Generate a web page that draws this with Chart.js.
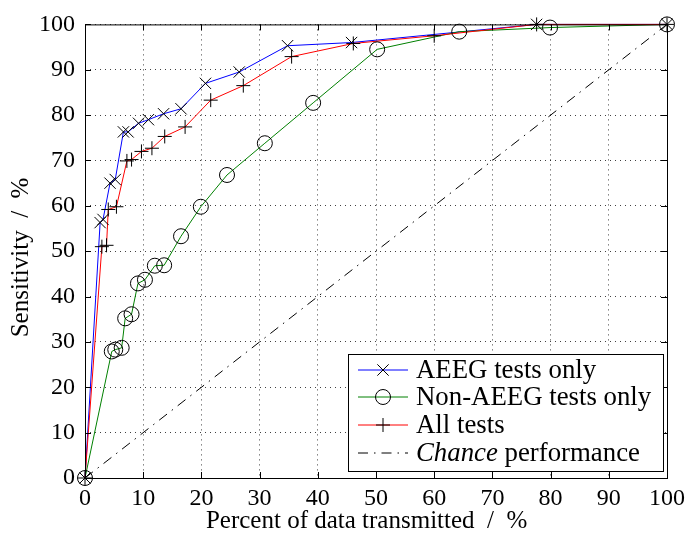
<!DOCTYPE html>
<html>
<head>
<meta charset="utf-8">
<script src="https://cdn.jsdelivr.net/npm/chart.js@4.4.1/dist/chart.umd.min.js"></script>
<style>
  html, body { margin: 0; padding: 0; background: #fff; }
</style>
</head>
<body>
<canvas id="roc" width="700" height="534"></canvas>
<script>
// valores (x = % de dados transmitidos, y = sensibilidade %)
const aeegX = [0, 2.6, 3.1, 4.3, 5.2, 6.6, 7.4, 9.2, 10.9, 13.5, 16.5, 20.7, 26.5, 34.8, 45.8, 77.6, 100];
const aeegY = [0, 56.3, 57.0, 65.0, 65.8, 76.3, 76.3, 78.2, 79.0, 80.3, 81.4, 87.0, 89.5, 95.3, 96.0, 100, 100];

const nonAeegX = [0, 4.6, 5.2, 6.3, 6.9, 8.0, 9.1, 10.3, 12.0, 13.6, 16.5, 19.9, 24.4, 30.9, 39.2, 50.2, 64.3, 79.9, 100];
const nonAeegY = [0, 27.9, 28.3, 28.7, 35.2, 36.1, 42.9, 43.7, 46.8, 46.9, 53.3, 59.8, 66.8, 73.8, 82.7, 94.5, 98.4, 99.3, 100];

const allX = [0, 2.9, 3.7, 4.0, 5.4, 7.2, 8.0, 9.7, 11.5, 13.7, 17.2, 21.6, 27.2, 35.5, 46.1, 60.0, 77.6, 100];
const allY = [0, 51.0, 51.3, 59.2, 59.8, 69.9, 70.2, 72.0, 72.7, 75.3, 77.4, 83.3, 86.5, 92.9, 95.8, 97.5, 100, 100];

const chanceX = [0, 100];
const chanceY = [0, 100];

const tickValues = [0, 10, 20, 30, 40, 50, 60, 70, 80, 90, 100];

const serif = "'Liberation Serif', 'Times New Roman', serif";
const chanceDash = [10, 6, 1.5, 6];

function toPoints(xs, ys) {
  return xs.map((x, i) => ({ x: x, y: ys[i] }));
}

// desenha um marcador no estilo do matlab
function drawMarker(ctx, style, x, y, r) {
  ctx.save();
  ctx.strokeStyle = '#000';
  ctx.lineWidth = 1;
  ctx.beginPath();
  if (style === 'circle') {
    ctx.arc(x, y, r, 0, Math.PI * 2);
  } else if (style === 'cross') {
    ctx.moveTo(x - r, y); ctx.lineTo(x + r, y);
    ctx.moveTo(x, y - r); ctx.lineTo(x, y + r);
  } else {
    const d = r * Math.SQRT1_2;
    ctx.moveTo(x - d, y - d); ctx.lineTo(x + d, y + d);
    ctx.moveTo(x - d, y + d); ctx.lineTo(x + d, y - d);
  }
  ctx.stroke();
  ctx.restore();
}

const legendItems = [
  { color: '#0000ff', marker: 'crossRot', r: 8, text: 'AEEG tests only' },
  { color: '#008000', marker: 'circle', r: 7.5, text: 'Non-AEEG tests only' },
  { color: '#ff0000', marker: 'cross', r: 7, text: 'All tests' },
  { color: '#000', marker: null, text: 'performance', italic: 'Chance' },
];

// moldura, ticks para dentro e legenda
const framePlugin = {
  id: 'frame',
  afterDraw(chart) {
    const { ctx, chartArea } = chart;
    const xs = chart.scales.x;
    const ys = chart.scales.y;
    ctx.save();
    ctx.strokeStyle = '#000';
    ctx.lineWidth = 1;
    ctx.strokeRect(chartArea.left + 0.5, chartArea.top + 0.5,
      chartArea.right - chartArea.left, chartArea.bottom - chartArea.top);
    ctx.beginPath();
    for (const v of tickValues) {
      const px = Math.round(xs.getPixelForValue(v)) + 0.5;
      ctx.moveTo(px, chartArea.bottom); ctx.lineTo(px, chartArea.bottom - 6);
      ctx.moveTo(px, chartArea.top); ctx.lineTo(px, chartArea.top + 6);
      const py = Math.round(ys.getPixelForValue(v)) + 0.5;
      ctx.moveTo(chartArea.left, py); ctx.lineTo(chartArea.left + 6, py);
      ctx.moveTo(chartArea.right, py); ctx.lineTo(chartArea.right - 6, py);
    }
    ctx.stroke();

    // legenda
    const box = { left: 348.5, top: 354.5, right: 663.5, bottom: 471.5 };
    ctx.fillStyle = '#fff';
    ctx.fillRect(box.left, box.top, box.right - box.left, box.bottom - box.top);
    ctx.strokeRect(box.left, box.top, box.right - box.left, box.bottom - box.top);
    const rows = [370, 397, 425, 453];
    ctx.textBaseline = 'middle';
    ctx.textAlign = 'left';
    legendItems.forEach((item, i) => {
      const y = rows[i];
      ctx.save();
      ctx.strokeStyle = item.color;
      ctx.lineWidth = 1;
      if (!item.marker) ctx.setLineDash(chanceDash);
      ctx.beginPath();
      ctx.moveTo(358, y); ctx.lineTo(408, y);
      ctx.stroke();
      ctx.restore();
      if (item.marker) drawMarker(ctx, item.marker, 383, y, item.r);
      ctx.fillStyle = '#000';
      let tx = 416;
      if (item.italic) {
        ctx.font = 'italic 26.8px ' + serif;
        ctx.fillText(item.italic, tx, y + 1);
        tx += ctx.measureText(item.italic + ' ').width;
      }
      ctx.font = '26.8px ' + serif;
      ctx.fillText(item.text, tx, y + 1);
    });
    ctx.restore();
  }
};

const markerPlugin = {
  id: 'markers',
  afterDatasetsDraw(chart) {
    chart.data.datasets.forEach((ds, i) => {
      if (!ds.marker) return;
      const meta = chart.getDatasetMeta(i);
      meta.data.forEach((pt) => drawMarker(chart.ctx, ds.marker, pt.x, pt.y, ds.markerRadius));
    });
  }
};

new Chart(document.getElementById('roc'), {
  type: 'scatter',
  data: {
    datasets: [
      {
        label: 'AEEG tests only',
        data: toPoints(aeegX, aeegY),
        showLine: true,
        borderColor: '#0000ff',
        borderWidth: 1,
        pointRadius: 0,
        marker: 'crossRot',
        markerRadius: 8,
        order: 4,
        clip: false,
      },
      {
        label: 'Non-AEEG tests only',
        data: toPoints(nonAeegX, nonAeegY),
        showLine: true,
        borderColor: '#008000',
        borderWidth: 1,
        pointRadius: 0,
        marker: 'circle',
        markerRadius: 7.5,
        order: 3,
        clip: false,
      },
      {
        label: 'All tests',
        data: toPoints(allX, allY),
        showLine: true,
        borderColor: '#ff0000',
        borderWidth: 1,
        pointRadius: 0,
        marker: 'cross',
        markerRadius: 7,
        order: 2,
        clip: false,
      },
      {
        label: 'Chance performance',
        data: toPoints(chanceX, chanceY),
        showLine: true,
        borderColor: '#000',
        borderWidth: 1,
        borderDash: chanceDash,
        pointRadius: 0,
        order: 1,
        clip: false,
      },
    ],
  },
  options: {
    responsive: false,
    animation: false,
    events: [],
    layout: { padding: { top: 19, right: 33, left: 0, bottom: 0 } },
    plugins: { legend: { display: false }, tooltip: { enabled: false } },
    scales: {
      x: {
        type: 'linear',
        min: 0,
        max: 100,
        afterFit: (scale) => { scale.height = 56; },
        afterBuildTicks: (scale) => { scale.ticks = tickValues.map((v) => ({ value: v })); },
        ticks: { color: '#000', font: { family: serif, size: 24 }, padding: 6, maxRotation: 0 },
        grid: { color: 'rgba(0,0,0,0.75)', lineWidth: 1, drawTicks: false },
        border: { display: false, dash: [1, 4] },
        title: {
          display: true,
          text: 'Percent of data transmitted  /  %   ',
          color: '#000',
          font: { family: serif, size: 25, lineHeight: 1 },
          padding: { top: 0, bottom: 0 },
        },
      },
      y: {
        type: 'linear',
        min: 0,
        max: 100,
        afterFit: (scale) => { scale.width = 85; },
        afterBuildTicks: (scale) => { scale.ticks = tickValues.map((v) => ({ value: v })); },
        ticks: { color: '#000', font: { family: serif, size: 24 }, padding: 10 },
        grid: { color: 'rgba(0,0,0,0.75)', lineWidth: 1, drawTicks: false },
        border: { display: false, dash: [1, 4] },
        title: {
          display: true,
          text: 'Sensitivity  /  %  ',
          color: '#000',
          font: { family: serif, size: 25, lineHeight: 1 },
          padding: { top: 9, bottom: 0 },
        },
      },
    },
  },
  plugins: [markerPlugin, framePlugin],
});
</script>
</body>
</html>
